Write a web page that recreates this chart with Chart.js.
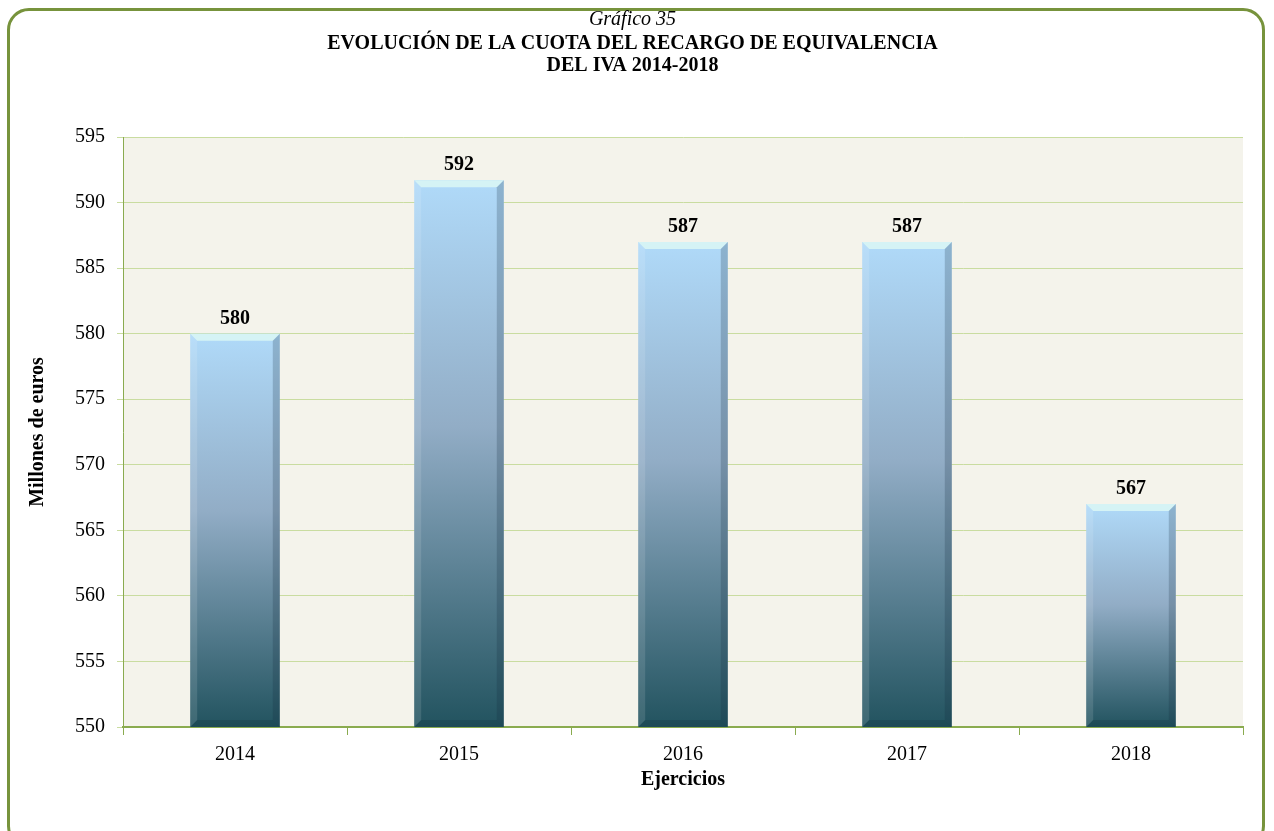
<!DOCTYPE html>
<html>
<head>
<meta charset="utf-8">
<script src="https://cdn.jsdelivr.net/npm/chart.js@4.4.1/dist/chart.umd.min.js"></script>
<style>
  html, body { margin: 0; padding: 0; background: #fff; }
  #marco { position: absolute; left: 7px; top: 8px; width: 1258px; height: 840px;
           border: 3px solid #77933c; border-radius: 22px; box-sizing: border-box; }
  #wrap { position: absolute; left: 0; top: 0; width: 1274px; height: 831px; }
</style>
</head>
<body>
<div id="marco"></div>
<div id="wrap"><canvas id="grafica" width="1274" height="831"></canvas></div>
<script>
// datos del gráfico
const ejercicios = ['2014', '2015', '2016', '2017', '2018'];
const cuota = [580, 591.7, 587, 587, 567];
const etiquetas = ['580', '592', '587', '587', '567'];

const fuente = "'Liberation Serif', 'Times New Roman', serif";
const verde = '#8aab4f';

// fondo del área de trazado
const fondoPlugin = {
    id: 'fondo',
    beforeDraw(chart) {
        const a = chart.chartArea;
        const ctx = chart.ctx;
        ctx.save();
        ctx.fillStyle = '#f4f3eb';
        ctx.fillRect(a.left, a.top, a.right - a.left, a.bottom - a.top);
        ctx.restore();
    }
};

// biseles de las barras y etiquetas de valor
const biselPlugin = {
    id: 'bisel',
    afterDatasetsDraw(chart) {
        const ctx = chart.ctx;
        const meta = chart.getDatasetMeta(0);
        ctx.save();
        meta.data.forEach((bar, i) => {
            const l = bar.x - bar.width / 2, r = bar.x + bar.width / 2;
            const t = bar.y, b = Math.min(bar.base, chart.chartArea.bottom);
            const e = 7;
            // arriba
            ctx.fillStyle = '#d5f3f5';
            ctx.beginPath();
            ctx.moveTo(l, t); ctx.lineTo(r, t); ctx.lineTo(r - e, t + e); ctx.lineTo(l + e, t + e);
            ctx.closePath(); ctx.fill();
            // izquierda
            ctx.fillStyle = 'rgba(255,255,255,0.12)';
            ctx.beginPath();
            ctx.moveTo(l, t); ctx.lineTo(l + e, t + e); ctx.lineTo(l + e, b - e); ctx.lineTo(l, b);
            ctx.closePath(); ctx.fill();
            // derecha
            ctx.fillStyle = 'rgba(20,40,60,0.22)';
            ctx.beginPath();
            ctx.moveTo(r, t); ctx.lineTo(r - e, t + e); ctx.lineTo(r - e, b - e); ctx.lineTo(r, b);
            ctx.closePath(); ctx.fill();
            // abajo
            ctx.fillStyle = 'rgba(10,40,50,0.2)';
            ctx.beginPath();
            ctx.moveTo(l, b); ctx.lineTo(l + e, b - e); ctx.lineTo(r - e, b - e); ctx.lineTo(r, b);
            ctx.closePath(); ctx.fill();
            // etiqueta
            ctx.fillStyle = '#000';
            ctx.font = 'bold 20px ' + fuente;
            ctx.textAlign = 'center';
            ctx.textBaseline = 'bottom';
            ctx.fillText(etiquetas[i], bar.x, t - 5);
        });
        ctx.restore();
    }
};

function degradado(context) {
    const chart = context.chart;
    if (!chart.chartArea) return '#8fb0cc';
    const y = chart.scales.y;
    const top = y.getPixelForValue(cuota[context.dataIndex]);
    const bottom = chart.chartArea.bottom;
    const g = chart.ctx.createLinearGradient(0, top, 0, bottom);
    g.addColorStop(0, '#b0daf9');
    g.addColorStop(0.45, '#92adc6');
    g.addColorStop(1, '#22535f');
    return g;
}

new Chart(document.getElementById('grafica'), {
    type: 'bar',
    data: {
        labels: ejercicios,
        datasets: [{
            data: cuota,
            backgroundColor: degradado,
            borderWidth: 0,
            barPercentage: 0.8,
            categoryPercentage: 0.5
        }]
    },
    options: {
        responsive: false,
        animation: false,
        layout: { padding: { top: 8, left: 22, right: 31, bottom: 39 } },
        plugins: {
            legend: { display: false },
            tooltip: { enabled: false },
            title: {
                display: true,
                text: 'Gráfico 35',
                color: '#000',
                font: { family: fuente, size: 20, style: 'italic', weight: 'normal' },
                padding: { top: 0, bottom: 1 }
            },
            subtitle: {
                display: true,
                text: ['EVOLUCIÓN DE LA CUOTA DEL RECARGO DE EQUIVALENCIA', 'DEL IVA 2014-2018'],
                color: '#000',
                font: { family: fuente, size: 20, weight: 'bold', lineHeight: 1.1 },
                padding: { top: 0, bottom: 60 }
            }
        },
        scales: {
            x: {
                grid: { display: true, drawOnChartArea: false, drawTicks: true, tickLength: 8, color: verde, offset: true },
                border: { color: verde, width: 2 },
                ticks: { color: '#000', font: { family: fuente, size: 20 }, padding: 8 },
                title: { display: true, text: 'Ejercicios', color: '#000', font: { family: fuente, size: 20, weight: 'bold' }, padding: { top: -7, bottom: 0 } }
            },
            y: {
                min: 550,
                max: 595,
                grid: { color: '#c9dca0', tickLength: 6, lineWidth: 1 },
                border: { color: verde, width: 1 },
                ticks: { stepSize: 5, color: '#000', font: { family: fuente, size: 20 }, padding: 12 },
                title: { display: true, text: 'Millones de euros', color: '#000', font: { family: fuente, size: 20, weight: 'bold' }, padding: { bottom: 5 } },
                afterFit(scale) { scale.width = 101; }
            }
        }
    },
    plugins: [fondoPlugin, biselPlugin]
});
</script>
</body>
</html>
